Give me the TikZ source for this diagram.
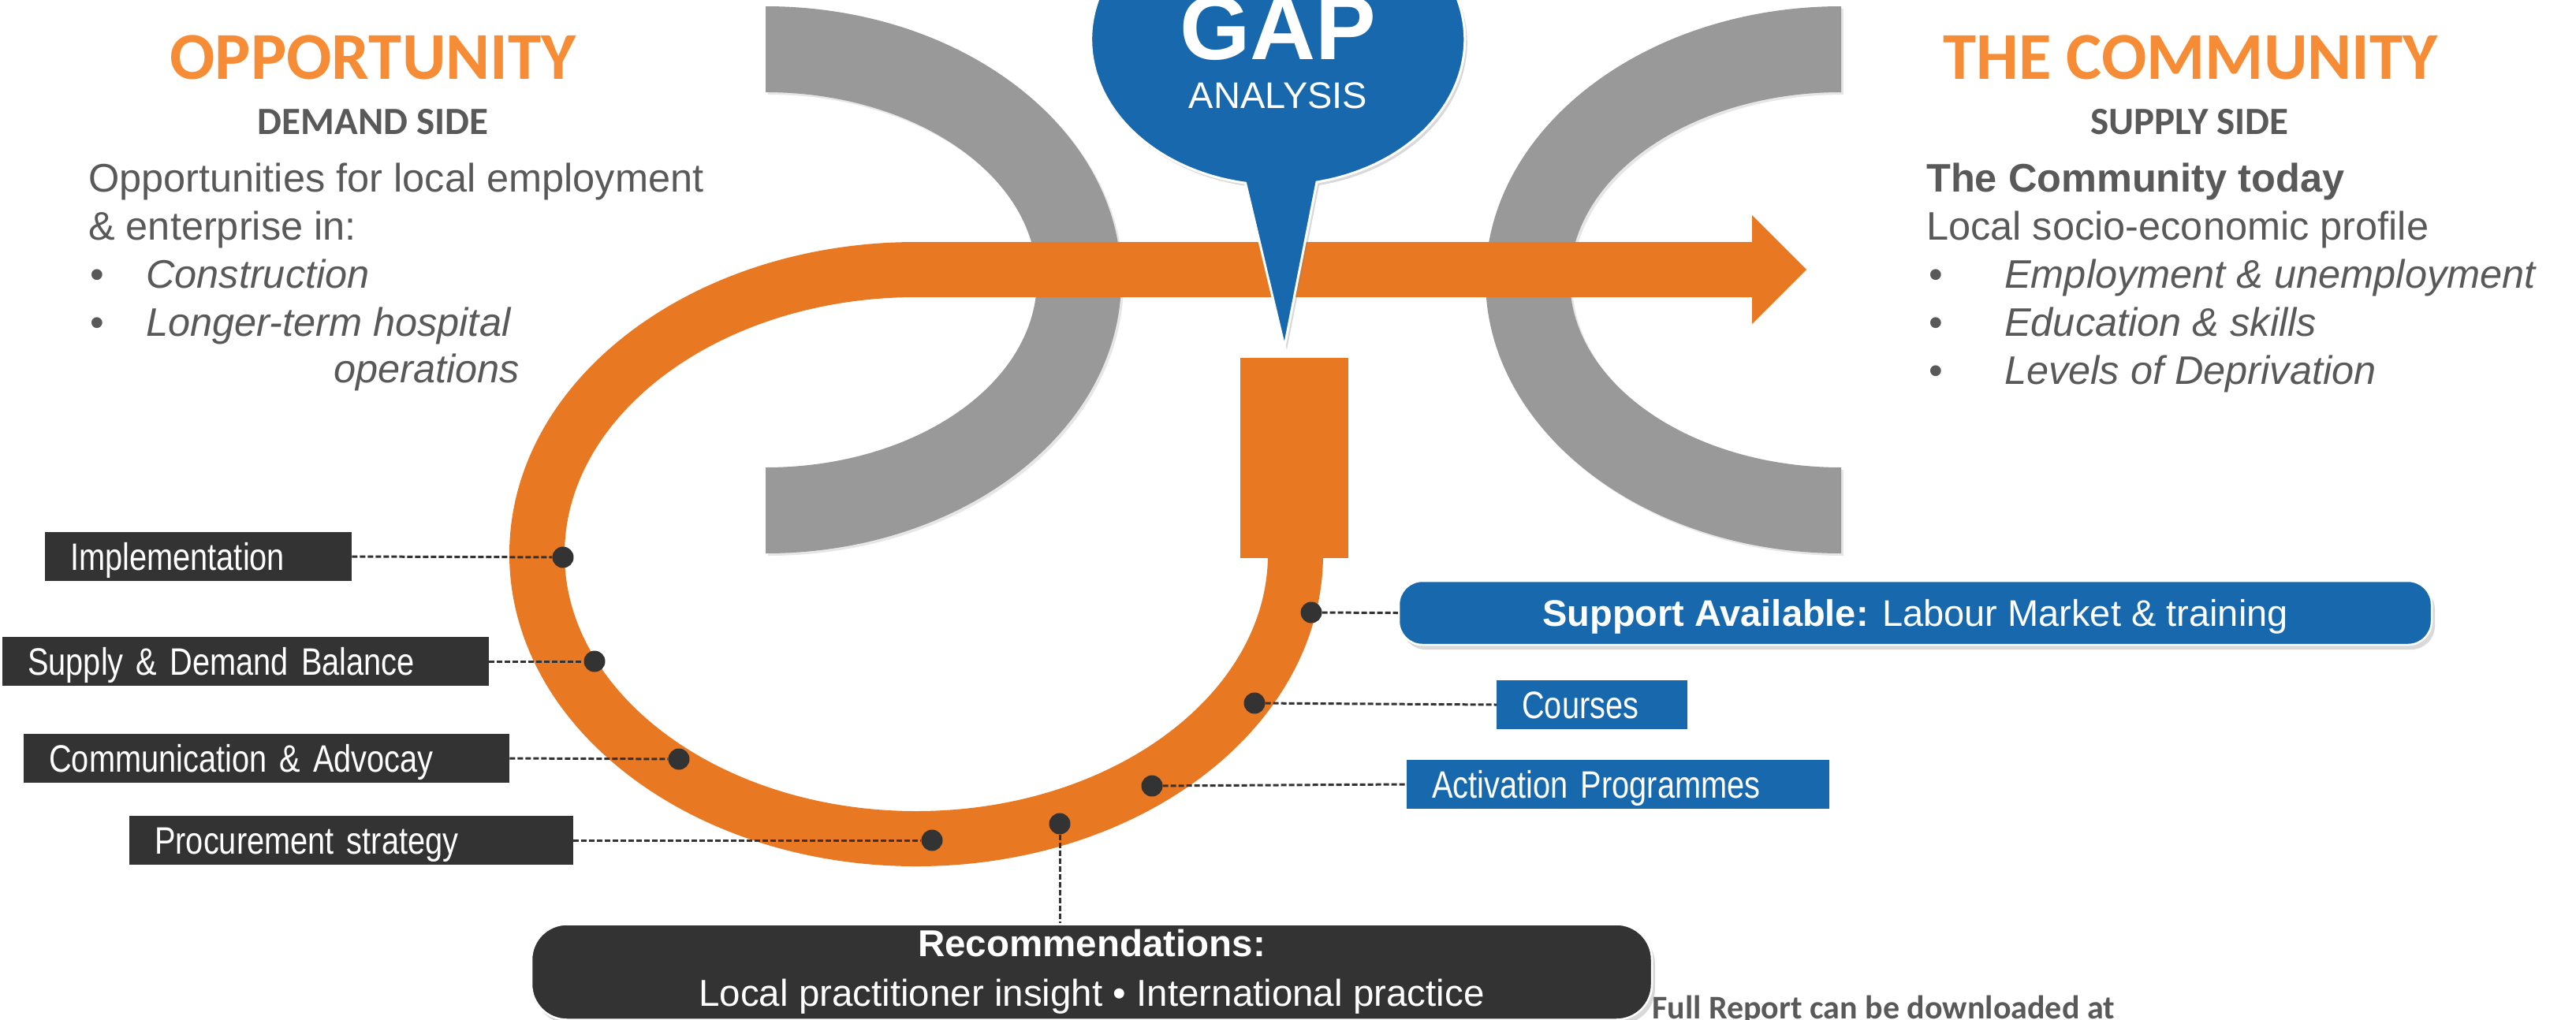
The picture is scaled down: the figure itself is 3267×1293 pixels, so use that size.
\documentclass[tikz,border=0pt]{standalone}
\usepackage{fontspec}
\setmainfont{Liberation Sans}
\newfontfamily\calfont{Carlito}
\newfontfamily\narrowfont[FakeStretch=0.82, WordSpace=0.82]{Liberation Sans}
\usepackage{tikz}
\usetikzlibrary{positioning, shadows}
\definecolor{BandOrange}{RGB}{233,120,34}
\definecolor{HeadOrange}{RGB}{246,141,54}
\definecolor{GapBlue}{RGB}{24,104,174}
\definecolor{ArcGray}{RGB}{153,153,153}
\definecolor{TagDark}{RGB}{51,51,51}
\definecolor{TextGray}{RGB}{89,89,89}

\begin{document}
\begin{tikzpicture}[x=1pt, y=-1pt,
    arcshape/.style={fill=ArcGray, drop shadow={shadow xshift=3pt, shadow yshift=-3pt, opacity=.2}},
    band/.style={draw=BandOrange, line width=70pt},
    head/.style={anchor=base, inner sep=0pt, text=HeadOrange,
                 font=\calfont\bfseries\fontsize{85pt}{90pt}\selectfont},
    side/.style={anchor=base, inner sep=0pt, text=TextGray,
                 font=\calfont\bfseries\fontsize{49pt}{55pt}\selectfont},
    body/.style={anchor=base west, inner sep=0pt, text=TextGray,
                 font=\fontsize{50.5pt}{60pt}\selectfont},
    item/.style={body, font=\fontsize{50.5pt}{60pt}\selectfont\itshape},
    tag/.style={rectangle, fill=TagDark, text=white, anchor=west, align=left,
                inner xsep=32pt, inner ysep=0pt, minimum height=62pt,
                text height=34pt, text depth=0pt,
                font=\narrowfont\fontsize{48.5pt}{54pt}\selectfont},
    bluetag/.style={tag, fill=GapBlue},
    pill/.style={rectangle, rounded corners=30pt, draw=white, line width=2.5pt,
                 text=white, align=center,
                 drop shadow={shadow xshift=4pt, shadow yshift=-6pt, opacity=.3}},
    dot/.style={circle, fill=TagDark, inner sep=0pt, minimum size=27pt},
    lead/.style={draw=TagDark, line width=3pt, dash pattern=on 7pt off 3pt}
  ]
  \useasboundingbox (0,0) rectangle (3267,1293);

  % grey brackets
  \fill[arcshape] (971,8) arc[start angle=-90, end angle=90, x radius=451, y radius=347]
        -- (971,593) arc[start angle=90, end angle=-90, x radius=344, y radius=238] -- cycle;
  \fill[arcshape] (2335,8) arc[start angle=270, end angle=90, x radius=451, y radius=347]
        -- (2335,593) arc[start angle=90, end angle=270, x radius=344, y radius=238] -- cycle;

  % orange loop and arrow
  \fill[BandOrange] (1573,454) rectangle (1710,708);
  \draw[band] (1643,703) arc[start angle=0, end angle=270, x radius=481, y radius=361]
        -- (2224,342);
  \fill[BandOrange] (2222,273) -- (2291,342) -- (2222,411) -- cycle;

  % gap bubble
  \filldraw[fill=GapBlue, draw=white, line width=3pt,
            drop shadow={shadow xshift=3pt, shadow yshift=-4pt, opacity=.3}]
        (1670,231) arc[start angle=78, end angle=-260, x radius=237, y radius=185]
        -- (1629,440) -- cycle;
  \node[anchor=base, inner sep=0pt, text=white,
        font=\bfseries\fontsize{115pt}{120pt}\selectfont] (gap) at (1621,75) {GAP};
  \node[anchor=base, inner sep=0pt, text=white,
        font=\fontsize{47pt}{52pt}\selectfont] (ana) at (1621,137) {ANALYSIS};

  % demand side
  \node[head] (opp) at (473,100) {OPPORTUNITY};
  \node[side] (dem) at (473,170) {DEMAND SIDE};
  \node[body] (opp1) at (112,243) {Opportunities for local employment};
  \node[body] (opp2) at (112,304) {\& enterprise in:};
  \node[body] (lb1) at (114,365) {•};
  \node[item] (li1) at (185,365) {Construction};
  \node[body] (lb2) at (114,426) {•};
  \node[item] (li2) at (185,426) {Longer-term hospital};
  \node[item] (li3) at (423,485) {operations};

  % supply side
  \node[head] (com) at (2778,100) {THE COMMUNITY};
  \node[side] (sup) at (2777,170) {SUPPLY SIDE};
  \node[body, font=\bfseries\fontsize{50.5pt}{60pt}\selectfont] (today) at (2443,243) {The Community today};
  \node[body] (prof) at (2443,304) {Local socio-economic profile};
  \foreach \txt [count=\i] in {Employment \& unemployment, Education \& skills, Levels of Deprivation} {
    \node[body] (rb\i) at (2446,304+61*\i) {•};
    \node[item] (ri\i) at (2542,304+61*\i) {\txt};
  }

  % points on the loop
  \node[dot] (dImpl) at (714,707) {};
  \node[dot] (dBal) at (754,839) {};
  \node[dot] (dComm) at (861,963) {};
  \node[dot] (dProc) at (1182,1066) {};
  \node[dot] (dRec) at (1344,1045) {};
  \node[dot] (dAct) at (1461,997) {};
  \node[dot] (dCrs) at (1591,892) {};
  \node[dot] (dSup) at (1663,777) {};

  % labels
  \node[tag, text width=325pt] (impl) at (57,706) {Implementation};
  \node[tag, text width=553pt] (bal) at (3,839) {Supply \& Demand Balance};
  \node[tag, text width=552pt] (comm) at (30,962) {Communication \& Advocay};
  \node[tag, text width=499pt] (proc) at (164,1066) {Procurement strategy};
  \node[bluetag, text width=178pt] (crs) at (1898,894) {Courses};
  \node[bluetag, text width=472pt] (act) at (1784,995) {Activation Programmes};
  \node[pill, fill=GapBlue, minimum width=1310pt, minimum height=81pt,
        text height=34pt, text depth=0pt, font=\fontsize{47pt}{52pt}\selectfont]
        (avail) at (2429,777.5) {\textbf{Support Available:} Labour Market \& training};
  \node[pill, fill=TagDark, rounded corners=45pt, minimum width=1421pt, minimum height=121pt,
        font=\fontsize{47.5pt}{63pt}\selectfont]
        (rec) at (1384.5,1233) {\textbf{Recommendations:}\\Local practitioner insight • International practice};

  \draw[lead] (impl.east) -- (dImpl);
  \draw[lead] (bal.east) -- (dBal);
  \draw[lead] (comm.east) -- (dComm);
  \draw[lead] (proc.east) -- (dProc);
  \draw[lead] (dRec) -- (dRec |- rec.north);
  \draw[lead] (dAct) -- (act.west);
  \draw[lead] (dCrs) -- (crs.west);
  \draw[lead] (dSup) -- (avail.west);

  \node[anchor=base west, inner sep=0pt, text=TextGray,
        font=\calfont\bfseries\fontsize{42pt}{46pt}\selectfont] (full) at (2095,1292)
        {Full Report can be downloaded at};
\end{tikzpicture}
\end{document}
